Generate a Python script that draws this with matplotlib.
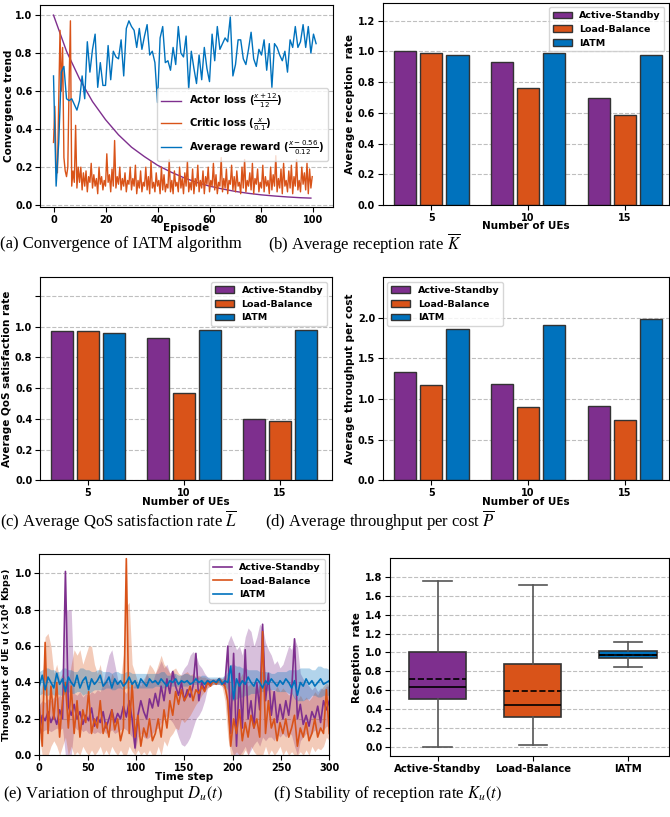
import numpy as np
import matplotlib.pyplot as plt

plt.rcParams["font.family"] = "DejaVu Sans"
plt.rcParams["axes.labelweight"] = "bold"
plt.rcParams["xtick.labelsize"] = 7
plt.rcParams["ytick.labelsize"] = 7
plt.rcParams["xtick.major.pad"] = 2
plt.rcParams["ytick.major.pad"] = 2
plt.rcParams["axes.labelsize"] = 7.5

PURPLE = "#7E2F8E"
ORANGE = "#D95319"
BLUE = "#0072BD"
EDGE = "#333333"

methods = ["Active-Standby", "Load-Balance", "IATM"]
ue_counts = ["5", "10", "15"]

# (a) convergence
actor_ep = [0, 5, 10, 15, 20, 25, 30, 35, 40, 45, 50, 55, 60, 65, 70, 75, 80, 85, 90, 95, 99]
actor_loss = [1.0, 0.81, 0.665, 0.545, 0.45, 0.37, 0.305, 0.255, 0.21, 0.175, 0.145,
              0.12, 0.10, 0.085, 0.072, 0.062, 0.054, 0.048, 0.043, 0.039, 0.037]
critic_loss = [
    0.33, 0.52, 0.2, 0.17, 0.55, 0.92, 0.6, 0.83, 0.25, 0.18, 0.15, 0.2, 0.65, 0.97, 0.1, 0.18, 0.12, 0.42, 0.09, 0.2,
    0.12, 0.2, 0.08, 0.17, 0.1, 0.18, 0.07, 0.15, 0.12, 0.22, 0.09, 0.16, 0.1, 0.14, 0.06, 0.2, 0.11, 0.15, 0.08, 0.13,
    0.1, 0.27, 0.12, 0.16, 0.07, 0.19, 0.1, 0.34, 0.09, 0.15, 0.11, 0.2, 0.08, 0.14, 0.1, 0.17, 0.07, 0.13, 0.11, 0.2,
    0.08, 0.14, 0.1, 0.21, 0.06, 0.13, 0.09, 0.18, 0.07, 0.12, 0.1, 0.2, 0.08, 0.15, 0.06, 0.23, 0.09, 0.12, 0.07, 0.17,
    0.1, 0.13, 0.06, 0.2, 0.08, 0.16, 0.07, 0.11, 0.09, 0.24, 0.07, 0.13, 0.06, 0.18, 0.1, 0.12, 0.07, 0.2, 0.09, 0.14,
    0.06, 0.17, 0.1, 0.23, 0.07, 0.12, 0.08, 0.19, 0.06, 0.14, 0.1, 0.21, 0.07, 0.13, 0.09, 0.18, 0.06, 0.15, 0.11, 0.2,
    0.07, 0.13, 0.1, 0.22, 0.08, 0.16, 0.06, 0.12, 0.1, 0.25, 0.07, 0.14, 0.09, 0.19, 0.06, 0.13, 0.11, 0.21, 0.08, 0.15,
    0.07, 0.18, 0.1, 0.12, 0.06, 0.2, 0.09, 0.24, 0.07, 0.13, 0.1, 0.17, 0.08, 0.22, 0.06, 0.14, 0.11, 0.19, 0.07, 0.12,
    0.09, 0.21, 0.07, 0.15, 0.1, 0.13, 0.06, 0.2, 0.08, 0.16, 0.1, 0.26, 0.07, 0.14, 0.09, 0.19, 0.06, 0.22, 0.1, 0.13,
    0.07, 0.18, 0.09, 0.21, 0.06, 0.15, 0.1, 0.24, 0.08, 0.13, 0.07, 0.2, 0.11, 0.17, 0.08, 0.22, 0.06, 0.19, 0.09, 0.15,
]
avg_reward = [
    0.68, 0.10, 0.33, 0.70, 0.73, 0.56, 0.55, 0.56, 0.53, 0.50, 0.55, 0.68, 0.56, 0.86, 0.70, 0.82, 0.90, 0.62, 0.75, 0.63,
    0.63, 0.84, 0.66, 0.81, 0.78, 0.77, 0.87, 0.68, 0.93, 0.97, 0.94, 0.92, 0.83, 0.93, 0.82, 0.89, 0.95, 0.79, 0.81, 0.75,
    0.54, 0.88, 0.94, 0.75, 0.76, 0.71, 0.83, 0.74, 0.94, 0.80, 0.78, 0.89, 0.61, 0.81, 0.72, 0.64, 0.79, 0.66, 0.83, 0.72,
    0.65, 0.90, 0.76, 0.94, 0.82, 0.85, 0.88, 0.86, 0.99, 0.68, 0.74, 0.87, 0.87, 0.77, 0.74, 0.82, 0.91, 0.77, 0.73, 0.82,
    0.79, 0.87, 0.71, 0.85, 0.62, 0.85, 0.83, 0.79, 0.76, 0.81, 0.70, 0.87, 0.83, 0.94, 0.83, 0.86, 0.95, 0.83, 0.94, 0.80,
    0.90, 0.85,
]

# (b), (c), (d) bar values per method, for 5 / 10 / 15 UEs
reception = {"Active-Standby": [1.004, 0.930, 0.698],
             "Load-Balance": [0.987, 0.759, 0.583],
             "IATM": [0.976, 0.987, 0.976]}
qos = {"Active-Standby": [0.972, 0.926, 0.397],
       "Load-Balance": [0.970, 0.570, 0.388],
       "IATM": [0.959, 0.976, 0.978]}
tput_cost = {"Active-Standby": [1.329, 1.185, 0.909],
             "Load-Balance": [1.177, 0.905, 0.737],
             "IATM": [1.864, 1.918, 1.992]}

# (e) throughput over time, sampled every 3 steps
as_mean = [
    0.12, 0.22, 0.19, 0.24, 0.18, 0.22, 0.17, 0.25, 0.2, 1.01, 0.27, 0.22, 0.28, 0.2, 0.24, 0.17, 0.22, 0.19, 0.26, 0.16,
    0.21, 0.18, 0.24, 0.15, 0.2, 0.25, 0.18, 0.23, 0.2, 0.27, 0.21, 0.3, 0.2, 0.04, 0.22, 0.3, 0.24, 0.2, 0.31, 0.26,
    0.34, 0.27, 0.38, 0.3, 0.42, 0.34, 0.46, 0.38, 0.33, 0.4, 0.3, 0.36, 0.32, 0.38, 0.56, 0.3, 0.4, 0.36, 0.41, 0.39,
    0.41, 0.4, 0.42, 0.4, 0.39, 0.6, 0.12, 0.56, 0.05, 0.45, 0.15, 0.58, 0.2, 0.3, 0.15, 0.4, 0.25, 0.72, 0.3, 0.45,
    0.22, 0.35, 0.18, 0.28, 0.2, 0.3, 0.22, 0.35, 0.64, 0.2, 0.28, 0.17, 0.22, 0.16, 0.24, 0.2, 0.27, 0.18, 0.3, 0.25,
    0.3,
]
as_low = [
    0.12, 0.13, 0.14, 0.14, 0.13, 0.14, 0.15, 0.14, 0.15, 0.0, 0.0, 0.0, 0.16, 0.14, 0.15, 0.13, 0.14, 0.12, 0.13, 0.12,
    0.13, 0.12, 0.14, 0.12, 0.13, 0.14, 0.12, 0.13, 0.14, 0.15, 0.14, 0.12, 0.1, 0.02, 0.1, 0.12, 0.1, 0.09, 0.1, 0.12,
    0.14, 0.15, 0.18, 0.2, 0.22, 0.2, 0.18, 0.15, 0.1, 0.06, 0.05, 0.07, 0.1, 0.15, 0.2, 0.22, 0.25, 0.3, 0.37, 0.38,
    0.39, 0.39, 0.39, 0.38, 0.36, 0.2, 0.05, 0.0, 0.0, 0.0, 0.02, 0.05, 0.0, 0.03, 0.06, 0.08, 0.05, 0.1, 0.08, 0.1,
    0.1, 0.08, 0.12, 0.1, 0.12, 0.1, 0.13, 0.11, 0.05, 0.0, 0.08, 0.1, 0.12, 0.1, 0.12, 0.14, 0.12, 0.15, 0.14, 0.16,
    0.16,
]
as_high = [
    0.28, 0.3, 0.29, 0.31, 0.3, 0.32, 0.31, 0.33, 0.32, 0.8, 0.8, 0.8, 0.34, 0.33, 0.35, 0.32, 0.34, 0.33, 0.35, 0.34,
    0.36, 0.35, 0.4, 0.48, 0.55, 0.58, 0.5, 0.42, 0.38, 0.36, 0.34, 0.38, 0.35, 0.4, 0.38, 0.42, 0.4, 0.45, 0.42, 0.4,
    0.45, 0.48, 0.52, 0.48, 0.5, 0.45, 0.47, 0.44, 0.4, 0.45, 0.48, 0.5, 0.55, 0.57, 0.55, 0.5, 0.48, 0.45, 0.43, 0.42,
    0.42, 0.42, 0.43, 0.42, 0.44, 0.62, 0.66, 0.62, 0.58, 0.6, 0.55, 0.65, 0.7, 0.68, 0.6, 0.65, 0.72, 0.7, 0.62, 0.58,
    0.55, 0.5, 0.52, 0.48, 0.5, 0.55, 0.6, 0.58, 0.64, 0.6, 0.45, 0.42, 0.4, 0.38, 0.36, 0.38, 0.35, 0.37, 0.36, 0.38,
    0.38,
]
lb_mean = [
    0.27, 0.05, 0.62, 0.12, 0.38, 0.2, 0.4, 0.1, 0.3, 0.4, 0.15, 0.38, 0.12, 0.3, 0.1, 0.25, 0.18, 0.35, 0.12, 0.2,
    0.15, 0.3, 0.12, 0.18, 0.1, 0.25, 0.14, 0.2, 0.08, 0.15, 1.08, 0.12, 0.4, 0.1, 0.22, 0.05, 0.15, 0.1, 0.2, 0.08,
    0.12, 0.2, 0.1, 0.25, 0.15, 0.3, 0.22, 0.35, 0.28, 0.36, 0.3, 0.33, 0.38, 0.3, 0.36, 0.34, 0.38, 0.35, 0.4, 0.38,
    0.41, 0.39, 0.42, 0.4, 0.38, 0.3, 0.05, 0.2, 0.12, 0.25, 0.08, 0.18, 0.1, 0.22, 0.15, 0.2, 0.1, 0.68, 0.12, 0.3,
    0.15, 0.2, 0.08, 0.18, 0.12, 0.2, 0.1, 0.15, 0.22, 0.05, 0.15, 0.1, 0.18, 0.08, 0.12, 0.2, 0.1, 0.15, 0.12, 0.36,
    0.12,
]
lb_low = [
    0.1, 0.0, 0.0, 0.0, 0.05, 0.08, 0.05, 0.0, 0.05, 0.1, 0.0, 0.05, 0.0, 0.02, 0.0, 0.05, 0.02, 0.0, 0.03, 0.0,
    0.02, 0.05, 0.0, 0.03, 0.0, 0.05, 0.02, 0.0, 0.03, 0.0, 0.0, 0.05, 0.02, 0.0, 0.03, 0.0, 0.02, 0.0, 0.03, 0.0,
    0.0, 0.05, 0.0, 0.08, 0.05, 0.1, 0.12, 0.15, 0.14, 0.2, 0.18, 0.2, 0.22, 0.25, 0.28, 0.3, 0.33, 0.35, 0.37, 0.38,
    0.39, 0.39, 0.39, 0.38, 0.3, 0.1, 0.0, 0.0, 0.02, 0.0, 0.0, 0.03, 0.0, 0.05, 0.02, 0.0, 0.0, 0.0, 0.05, 0.0,
    0.03, 0.0, 0.02, 0.05, 0.0, 0.03, 0.0, 0.02, 0.0, 0.0, 0.02, 0.0, 0.03, 0.0, 0.05, 0.02, 0.04, 0.03, 0.05, 0.1,
    0.08,
]
lb_high = [
    0.3, 0.4, 0.65, 0.67, 0.6, 0.45, 0.5, 0.42, 0.45, 0.42, 0.4, 0.5, 0.58, 0.55, 0.58, 0.5, 0.55, 0.6, 0.6, 0.5,
    0.45, 0.5, 0.4, 0.42, 0.38, 0.45, 0.42, 0.4, 0.42, 0.55, 0.82, 0.84, 0.5, 0.45, 0.4, 0.38, 0.42, 0.45, 0.5, 0.48,
    0.45, 0.5, 0.55, 0.5, 0.48, 0.45, 0.47, 0.48, 0.45, 0.44, 0.45, 0.46, 0.44, 0.45, 0.43, 0.44, 0.43, 0.43, 0.42, 0.42,
    0.42, 0.42, 0.43, 0.42, 0.43, 0.45, 0.4, 0.38, 0.4, 0.42, 0.45, 0.4, 0.38, 0.4, 0.38, 0.35, 0.4, 0.68, 0.4, 0.38,
    0.36, 0.35, 0.38, 0.35, 0.37, 0.35, 0.33, 0.35, 0.32, 0.3, 0.33, 0.3, 0.32, 0.3, 0.32, 0.35, 0.33, 0.36, 0.38, 0.4,
    0.38,
]
iatm_mean = [
    0.38, 0.44, 0.36, 0.43, 0.40, 0.37, 0.45, 0.39, 0.42, 0.35, 0.43, 0.40, 0.38, 0.44, 0.37, 0.41, 0.43, 0.36, 0.42, 0.39,
    0.41, 0.44, 0.38, 0.40, 0.43, 0.37, 0.42, 0.39, 0.41, 0.38, 0.40, 0.43, 0.39, 0.41, 0.37, 0.42, 0.40, 0.38, 0.42, 0.40,
    0.41, 0.39, 0.42, 0.40, 0.38, 0.41, 0.40, 0.42, 0.39, 0.41, 0.40, 0.41, 0.39, 0.40, 0.42, 0.40, 0.41, 0.39, 0.41, 0.40,
    0.41, 0.40, 0.42, 0.39, 0.41, 0.40, 0.49, 0.31, 0.42, 0.38, 0.41, 0.39, 0.43, 0.40, 0.38, 0.42, 0.40, 0.37, 0.41, 0.39,
    0.42, 0.40, 0.38, 0.41, 0.39, 0.42, 0.40, 0.37, 0.41, 0.33, 0.40, 0.38, 0.42, 0.39, 0.41, 0.38, 0.40, 0.42, 0.39, 0.40,
    0.41,
]
iatm_low = [
    0.33, 0.34, 0.33, 0.33, 0.34, 0.33, 0.34, 0.33, 0.33, 0.34, 0.35, 0.34, 0.34, 0.35, 0.35, 0.33, 0.34, 0.34, 0.35, 0.36,
    0.36, 0.36, 0.36, 0.37, 0.37, 0.36, 0.36, 0.37, 0.37, 0.36, 0.37, 0.37, 0.37, 0.37, 0.37, 0.37, 0.37, 0.37, 0.37, 0.37,
    0.38, 0.38, 0.37, 0.37, 0.38, 0.38, 0.38, 0.38, 0.38, 0.38, 0.38, 0.38, 0.39, 0.39, 0.39, 0.39, 0.39, 0.39, 0.39, 0.39,
    0.39, 0.39, 0.39, 0.39, 0.38, 0.36, 0.30, 0.30, 0.31, 0.32, 0.32, 0.33, 0.33, 0.34, 0.34, 0.34, 0.35, 0.35, 0.35, 0.36,
    0.36, 0.36, 0.35, 0.35, 0.35, 0.35, 0.34, 0.34, 0.31, 0.30, 0.30, 0.30, 0.31, 0.31, 0.33, 0.33, 0.32, 0.32, 0.33, 0.33,
    0.33,
]
iatm_high = [
    0.46, 0.47, 0.48, 0.48, 0.47, 0.47, 0.46, 0.46, 0.48, 0.48, 0.47, 0.47, 0.46, 0.46, 0.48, 0.48, 0.47, 0.47, 0.46, 0.46,
    0.47, 0.47, 0.46, 0.46, 0.46, 0.45, 0.46, 0.46, 0.45, 0.45, 0.46, 0.46, 0.45, 0.45, 0.45, 0.45, 0.45, 0.45, 0.45, 0.45,
    0.45, 0.45, 0.46, 0.46, 0.44, 0.44, 0.45, 0.45, 0.44, 0.44, 0.45, 0.45, 0.44, 0.44, 0.43, 0.43, 0.44, 0.44, 0.43, 0.43,
    0.43, 0.43, 0.43, 0.43, 0.44, 0.46, 0.50, 0.50, 0.49, 0.49, 0.48, 0.48, 0.47, 0.47, 0.47, 0.47, 0.46, 0.46, 0.46, 0.46,
    0.45, 0.45, 0.46, 0.46, 0.46, 0.46, 0.47, 0.47, 0.47, 0.47, 0.48, 0.48, 0.48, 0.48, 0.47, 0.47, 0.49, 0.49, 0.48, 0.48,
    0.47,
]

# (f) box statistics of reception rate
box_stats = {
    "Active-Standby": dict(whislo=0.0, q1=0.50, med=0.63, mean=0.72, q3=1.0, whishi=1.76),
    "Load-Balance": dict(whislo=0.02, q1=0.31, med=0.44, mean=0.59, q3=0.88, whishi=1.715),
    "IATM": dict(whislo=0.84, q1=0.94, med=0.975, mean=0.97, q3=1.01, whishi=1.115),
}

colors = {"Active-Standby": PURPLE, "Load-Balance": ORANGE, "IATM": BLUE}

fig = plt.figure(figsize=(6.7, 8.17), dpi=100)


def hgrid(ax):
    ax.set_axisbelow(True)
    ax.yaxis.grid(True, linestyle="--", color="gray", alpha=0.5, linewidth=0.8)


def legend(ax, size=6.8, **kw):
    return ax.legend(prop={"weight": "bold", "size": size}, **kw)


def ticks(ax, xt, yt, xfmt="{:g}", yfmt="{:.1f}", xlabels=None, ylabels=None):
    ax.set_xticks(xt, xlabels if xlabels is not None else [xfmt.format(v) for v in xt],
                  fontweight="bold")
    ax.set_yticks(yt, ylabels if ylabels is not None else [yfmt.format(v) for v in yt],
                  fontweight="bold")


# ---- (a)
ax = fig.add_axes([0.0597, 0.7466, 0.4373, 0.2472])
hgrid(ax)
ep_critic = np.arange(len(critic_loss)) * 0.5
ax.plot(actor_ep, actor_loss, color=PURPLE, lw=1.0, label=r"Actor loss ($\frac{x+12}{12}$)")
ax.plot(ep_critic, critic_loss, color=ORANGE, lw=1.0, label=r"Critic loss ($\frac{x}{0.1}$)")
ax.plot(np.arange(len(avg_reward)), avg_reward, color=BLUE, lw=1.0,
        label=r"Average reward ($\frac{x-0.56}{0.12}$)")
ax.set_xlim(-5.2, 107.5)
ax.set_ylim(-0.01, 1.053)
ticks(ax, np.arange(0, 101, 20), np.arange(0, 1.01, 0.2))
ax.set_xlabel("Episode", labelpad=-1)
ax.set_ylabel("Convergence trend", labelpad=1)
legend(ax, size=7.3, loc="center right", bbox_to_anchor=(1.0, 0.41), labelspacing=0.55)


def bars(rect, data, ylabel, ylim, xlim, yt, loc, ylabels=None):
    ax = fig.add_axes(rect)
    hgrid(ax)
    x = np.arange(len(ue_counts))
    for i, m in enumerate(methods):
        ax.bar(x + (i - 1) * 0.27, data[m], width=0.23, color=colors[m],
               edgecolor=EDGE, linewidth=1.0, label=m)
    ticks(ax, x, yt, xlabels=ue_counts, ylabels=ylabels)
    ax.set_xlim(*xlim)
    ax.set_ylim(*ylim)
    ax.set_xlabel("Number of UEs", labelpad=-1)
    ax.set_ylabel(ylabel, labelpad=2)
    legend(ax, loc=loc)
    return ax


bars([0.5712, 0.7491, 0.4276, 0.2476], reception, "Average reception  rate",
     (0, 1.317), (-0.5, 2.455), np.arange(0, 1.21, 0.2), "upper right")
bars([0.0597, 0.4121, 0.4354, 0.2485], qos, "Average QoS satisfaction rate",
     (0, 1.32), (-0.5, 2.54), np.arange(0, 1.21, 0.2), "upper right",
     ylabels=["0.0", "0.2", "0.4", "0.6", "0.8", "1.0", ""])
bars([0.5712, 0.4121, 0.4276, 0.2485], tput_cost, "Average throughput per cost",
     (0, 2.5), (-0.5, 2.455), np.arange(0, 2.01, 0.5), "upper left")

# ---- (e)
ax = fig.add_axes([0.0587, 0.0755, 0.4328, 0.246])
hgrid(ax)
t = np.arange(len(iatm_mean)) * 3
for m, mean, lo, hi in [("Active-Standby", as_mean, as_low, as_high),
                        ("Load-Balance", lb_mean, lb_low, lb_high),
                        ("IATM", iatm_mean, iatm_low, iatm_high)]:
    ax.fill_between(t, lo, hi, color=colors[m], alpha=0.3, linewidth=0)
    ax.plot(t, mean, color=colors[m], lw=1.2, label=m)
ax.set_xlim(0, 300)
ax.set_ylim(0, 1.104)
ticks(ax, np.arange(0, 301, 50), np.arange(0, 1.01, 0.2))
ax.set_xlabel("Time step", labelpad=-1)
ax.set_ylabel(r"Throughput of UE u ($\mathbf{\times 10^4}$ Kbps)", fontsize=6.8, labelpad=0.5)
legend(ax, loc="upper right")

# ---- (f)
ax = fig.add_axes([0.5821, 0.0747, 0.4164, 0.242])
hgrid(ax)
stats = [dict(box_stats[m], fliers=[], label=m) for m in methods]
bp = ax.bxp(stats, positions=[1, 2, 3], widths=0.6, patch_artist=True,
            showmeans=True, meanline=True, showfliers=False,
            boxprops=dict(edgecolor=EDGE, linewidth=1.2),
            whiskerprops=dict(color="#555555", linewidth=1.2),
            capprops=dict(color="#555555", linewidth=1.2),
            medianprops=dict(color="black", linewidth=1.2),
            meanprops=dict(color="black", linestyle="--", linewidth=1.2))
for patch, m in zip(bp["boxes"], methods):
    patch.set_facecolor(colors[m])
ax.set_xlim(0.5, 3.43)
ax.set_ylim(-0.1, 2.0)
ax.set_xticks([1, 2, 3], methods, fontweight="bold", fontsize=7.3)
yt = np.arange(0, 1.81, 0.2)
ax.set_yticks(yt, [f"{v:.1f}" for v in yt], fontweight="bold")
ax.set_ylabel("Reception  rate", labelpad=2)

# ---- captions
cap = dict(fontfamily="Liberation Serif", fontsize=12, fontweight="normal",
           va="center", ha="left", math_fontfamily="stix")
fig.text(0.0, 1 - 244 / 817, "(a) Convergence of IATM algorithm", **cap)
fig.text(268 / 670, 1 - 244 / 817, r"(b) Average reception rate $\overline{K}$", **cap)
fig.text(0.0, 1 - 521 / 817, r"(c) Average QoS satisfaction rate $\overline{L}$", **cap)
fig.text(265 / 670, 1 - 521 / 817, r"(d) Average throughput per cost $\overline{P}$", **cap)
fig.text(3 / 670, 1 - 794 / 817, r"(e) Variation of throughput $D_u(t)$", **cap)
fig.text(273 / 670, 1 - 794 / 817, r"(f) Stability of reception rate $K_u(t)$", **cap)

fig.savefig("out.png", dpi=100)
